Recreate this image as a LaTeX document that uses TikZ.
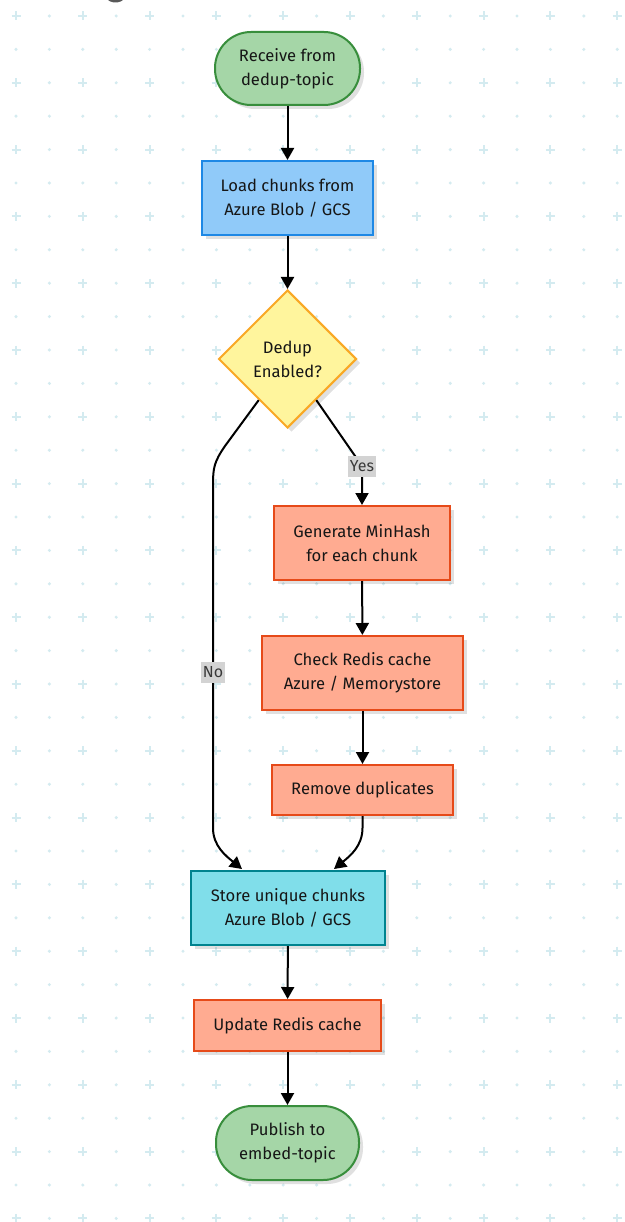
\documentclass[tikz,border=0pt]{standalone}
\usepackage{fontspec}
\setmainfont{Fira Sans}
\usetikzlibrary{shapes.geometric,arrows.meta,shadows,calc}
\definecolor{gridc}{HTML}{D4EBF0}
\definecolor{greenF}{HTML}{A5D6A7}\definecolor{greenD}{HTML}{388E3C}
\definecolor{blueF}{HTML}{90CAF9}\definecolor{blueD}{HTML}{1E88E5}
\definecolor{yelF}{HTML}{FFF59D}\definecolor{yelD}{HTML}{F9A825}
\definecolor{orF}{HTML}{FFAB91}\definecolor{orD}{HTML}{E64A19}
\definecolor{cyF}{HTML}{80DEEA}\definecolor{cyD}{HTML}{00838F}
\definecolor{txt}{HTML}{161616}
\definecolor{lblF}{HTML}{D3D3D3}
\tikzset{
  base/.style={line width=2pt, align=center, inner sep=0pt, text=txt,
    font=\fontsize{16.6}{24}\selectfont,
    drop shadow={shadow xshift=4pt, shadow yshift=-4pt, opacity=0.12, fill=black}},
  term/.style={base, fill=greenF, draw=greenD, rounded corners=36pt},
  loadbox/.style={base, fill=blueF, draw=blueD},
  decbox/.style={base, diamond, aspect=1, fill=yelF, draw=yelD},
  procbox/.style={base, fill=orF, draw=orD},
  storebox/.style={base, fill=cyF, draw=cyD},
  arr/.style={line width=2pt, draw=black, -{Triangle[length=12pt,width=13pt]}},
  elabel/.style={fill=lblF, text=txt!85, inner xsep=2pt, inner ysep=0pt,
    minimum height=21pt, font=\fontsize{16}{18}\selectfont}
}
\begin{document}
\begin{tikzpicture}[x=1pt,y=-1pt]
\useasboundingbox (0,0) rectangle (624,1222);
\fill[white] (0,0) rectangle (624,1222);
% background grid
\foreach \i in {0,...,18}{
  \foreach \j in {0,...,36}{
    \pgfmathtruncatemacro\p{(mod(\i,2)==0)&&(mod(\j,2)==0)}
    \ifnum\p=1
      \draw[gridc, line width=2pt] ({16+33.4*\i-4.5},{16+33.4*\j}) -- ++(9,0);
      \draw[gridc, line width=2pt] ({16+33.4*\i},{16+33.4*\j-4.5}) -- ++(0,9);
    \else
      \fill[gridc] ({16+33.4*\i},{16+33.4*\j}) circle (1.7);
    \fi
  }
}
% partial dark shape at top
\fill[black!65] (115.5,-11) circle (13.5);

% nodes
\node[term, minimum width=145pt, minimum height=73pt] (start) at (287.5,68.5) {Receive from\\dedup-topic};
\node[loadbox, minimum width=171pt, minimum height=74pt] (load) at (287.5,198) {Load chunks from\\Azure Blob / GCS};
\node[decbox, minimum width=138pt, minimum height=138pt] (dec) at (287.5,359) {Dedup\\Enabled?};
\node[procbox, minimum width=176pt, minimum height=74pt] (gen) at (362,543) {Generate MinHash\\for each chunk};
\node[procbox, minimum width=201pt, minimum height=74pt] (check) at (362.5,673) {Check Redis cache\\Azure / Memorystore};
\node[procbox, minimum width=181pt, minimum height=50pt] (remove) at (362.5,790) {Remove duplicates};
\node[storebox, minimum width=194pt, minimum height=74pt] (store) at (288,908) {Store unique chunks\\Azure Blob / GCS};
\node[procbox, minimum width=187pt, minimum height=51pt] (update) at (287.5,1025.5) {Update Redis cache};
\node[term, minimum width=143pt, minimum height=74pt] (pub) at (287.5,1143) {Publish to\\embed-topic};

% connectors
\draw[arr] (start) -- (load);
\draw[arr] (load) -- (dec);
\coordinate (yb) at (362,466);
\draw[arr, rounded corners=10pt] (dec.-55) -- (yb) -- (gen.north);
\node[elabel] (yes) at (yb) {Yes};
\draw[arr] (dec.-125) -- (225,446) .. controls (214,462) and (213,468) .. (213,485)
   -- (213,828) .. controls (213,846) and (226,856) .. ($(store.north)+(-46,-1)$);
\node[elabel] (no) at (213,672) {No};
\draw[arr] (remove.south) -- (362.5,828) .. controls (362.5,846) and (350,856) .. ($(store.north)+(46,-1)$);
\draw[arr] (gen) -- (check);
\draw[arr] (check) -- (remove);
\draw[arr] (store) -- (update);
\draw[arr] (update) -- (pub);
\end{tikzpicture}
\end{document}
